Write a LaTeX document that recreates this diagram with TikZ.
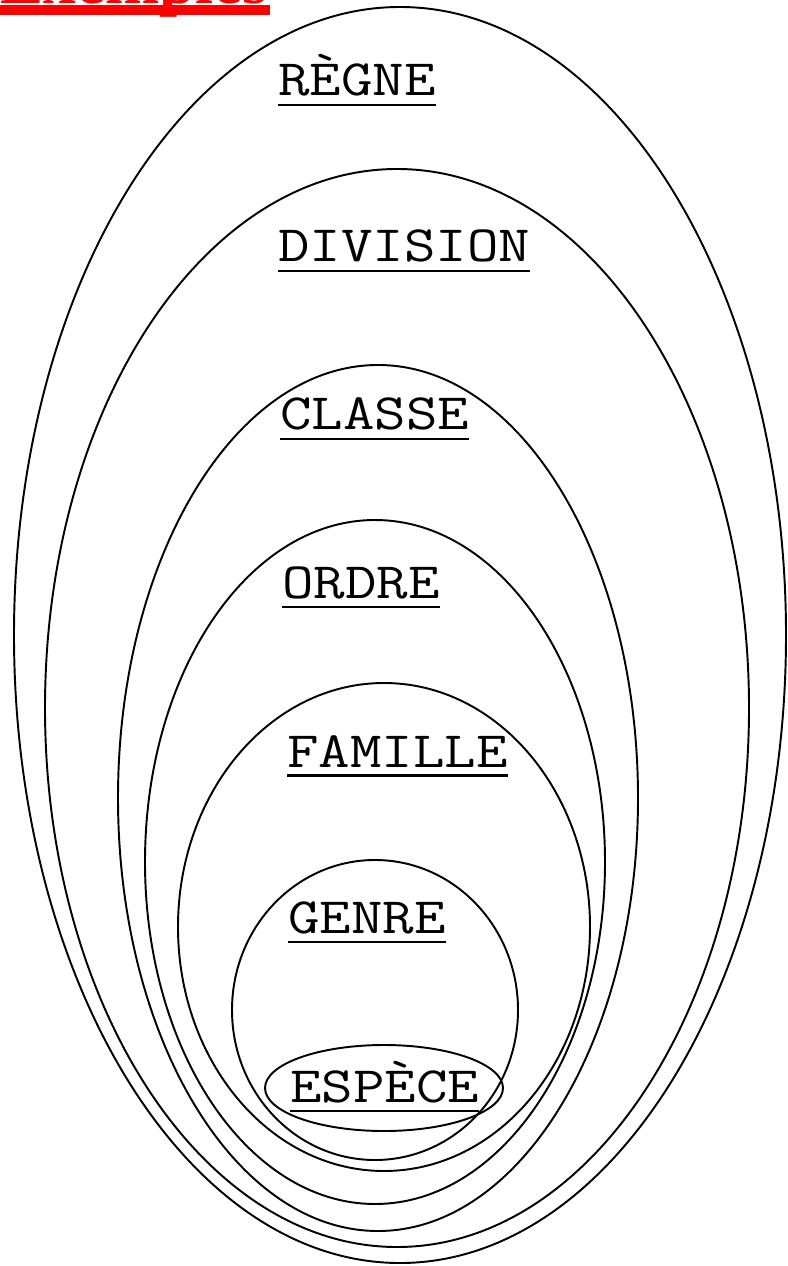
\documentclass[tikz,border=0pt]{standalone}
\usepackage{fontspec}
\newfontfamily\titrefont{Liberation Serif}
\usetikzlibrary{positioning}
\definecolor{titre}{HTML}{FF0000}
\newcommand{\souligne}[1]{\vtop{\hbox{#1}\kern4pt\hrule height 1.5pt}}

\begin{document}
\begin{tikzpicture}[
  x=0.02cm, y=-0.02cm,
  zone/.style={line width=1.1pt},
  rang/.style={font=\ttfamily\fontsize{29}{34}\selectfont,anchor=base west,inner sep=0pt,xscale=1.2,transform shape},
]
  \useasboundingbox (0,0) rectangle (787,1266);
  \clip (0,0) rectangle (787,1266);

  % Title, cut by the top edge
  \node[font=\titrefont\bfseries\fontsize{37}{40}\selectfont,text=titre,anchor=base west,inner sep=0pt] (titre) at (0,4) {Exemples};
  \fill[titre] (0,5) rectangle (270,15);

  % Nested zones, outer to inner
  \draw[zone] (400,635) ellipse [x radius=386, y radius=628];
  \draw[zone] (397,708) ellipse [x radius=352, y radius=539];
  \draw[zone] (378,798) ellipse [x radius=260, y radius=433];
  \draw[zone] (375,862) ellipse [x radius=230, y radius=342];
  \draw[zone] (384,927) ellipse [x radius=206, y radius=244];
  \draw[zone] (375,1010) ellipse [x radius=143, y radius=150];
  \draw[zone] (384,1088) ellipse [x radius=119, y radius=43];

  % Labels
  \node[rang] (regne) at (278,96) {\souligne{RÈGNE}};
  \node[rang] (division) at (278,262) {\souligne{DIVISION}};
  \node[rang] (classe) at (280,430) {\souligne{CLASSE}};
  \node[rang] (ordre) at (282,598) {\souligne{ORDRE}};
  \node[rang] (famille) at (287,767) {\souligne{FAMILLE}};
  \node[rang] (genre) at (288,933) {\souligne{GENRE}};
  \node[rang] (espece) at (290,1102) {\souligne{ESPÈCE}};
\end{tikzpicture}
\end{document}
